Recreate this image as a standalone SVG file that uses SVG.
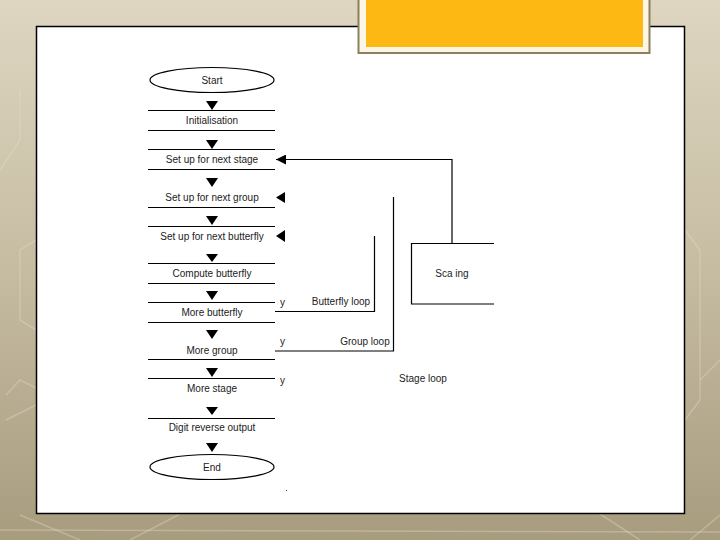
<svg xmlns="http://www.w3.org/2000/svg" width="720" height="540" viewBox="0 0 720 540">
<defs>
<linearGradient id="bg" x1="0" y1="0" x2="0" y2="1">
<stop offset="0" stop-color="#ded6c1"/>
<stop offset="0.5" stop-color="#c6bca2"/>
<stop offset="1" stop-color="#a89c7f"/>
</linearGradient>
<marker id="tri" viewBox="0 0 10 10" refX="10" refY="5" markerWidth="10" markerHeight="10" markerUnits="userSpaceOnUse" orient="auto">
<path d="M0,0 L10,5 L0,10 Z" fill="#000"/>
</marker>
</defs>
<style>
.t{font-family:"Liberation Sans",Arial,sans-serif;font-size:10px;fill:#222;text-anchor:middle}
.tl{font-family:"Liberation Sans",Arial,sans-serif;font-size:10px;fill:#222}
.ln{stroke:#000;stroke-width:1.2;fill:none}
.dn{fill:#000}
.hex{stroke:#e6dfcc;stroke-width:1.5;fill:none;opacity:0.35}
</style>
<rect x="0" y="0" width="720" height="540" fill="url(#bg)"/>
<g id="background-pattern">
<polyline class="hex" points="0,170 20,140 20,90"/>
<polyline class="hex" points="36,240 20,250 20,320 36,330"/>
<polyline class="hex" points="6,395 20,380 36,388"/>
<polyline class="hex" points="6,420 36,405"/>
<polyline class="hex" points="20,515 80,540"/>
<polyline class="hex" points="130,540 180,514"/>
<polyline class="hex" points="0,530 720,532"/>
<polyline class="hex" points="600,514 640,540"/>
<polyline class="hex" points="690,540 720,515"/>
<polyline class="hex" points="685,230 700,250 700,400 685,420"/>
<polyline class="hex" points="700,380 720,360"/>
</g>
<rect id="panel" x="36.5" y="26.5" width="648" height="487" fill="#fff" stroke="#000" stroke-width="1.5"/>
<g id="title-box">
<rect x="358.5" y="-3" width="291" height="56" fill="#fbf6e6" stroke="#8c7f5c" stroke-width="2"/>
<rect x="366" y="-3" width="277" height="50" fill="#fdb813"/>
</g>
<g id="n-start">
<ellipse cx="212" cy="80" rx="62" ry="12.5" class="ln"/>
<text class="t" x="212" y="84">Start</text>
</g>
<g id="n-init">
<line class="ln" x1="148" y1="110.5" x2="275" y2="110.5"/>
<line class="ln" x1="148" y1="130.5" x2="275" y2="130.5"/>
<text class="t" x="212" y="124">Initialisation</text>
</g>
<g id="n-stage">
<line class="ln" x1="148" y1="149.5" x2="275" y2="149.5"/>
<line class="ln" x1="148" y1="169.5" x2="275" y2="169.5"/>
<text class="t" x="212" y="163">Set up for next stage</text>
</g>
<g id="n-group">
<line class="ln" x1="148" y1="207.5" x2="275" y2="207.5"/>
<text class="t" x="212" y="201">Set up for next group</text>
</g>
<g id="n-bfly">
<line class="ln" x1="148" y1="226.5" x2="275" y2="226.5"/>
<text class="t" x="212" y="240">Set up for next butterfly</text>
</g>
<g id="n-compute">
<line class="ln" x1="148" y1="263.5" x2="275" y2="263.5"/>
<line class="ln" x1="148" y1="283.5" x2="275" y2="283.5"/>
<text class="t" x="212" y="277">Compute butterfly</text>
</g>
<g id="n-morebfly">
<line class="ln" x1="148" y1="302.5" x2="275" y2="302.5"/>
<line class="ln" x1="148" y1="322.5" x2="275" y2="322.5"/>
<text class="t" x="212" y="316">More butterfly</text>
</g>
<g id="n-moregroup">
<line class="ln" x1="148" y1="359.5" x2="275" y2="359.5"/>
<text class="t" x="212" y="354">More group</text>
</g>
<g id="n-morestage">
<line class="ln" x1="148" y1="378.5" x2="275" y2="378.5"/>
<text class="t" x="212" y="392">More stage</text>
</g>
<g id="n-digit">
<line class="ln" x1="148" y1="418.5" x2="275" y2="418.5"/>
<text class="t" x="212" y="431">Digit reverse output</text>
</g>
<g id="n-end">
<ellipse cx="212" cy="467" rx="62" ry="12.5" class="ln"/>
<text class="t" x="212" y="471">End</text>
</g>
<g id="n-scaling">
<polyline class="ln" points="494,243.5 411.5,243.5 411.5,304 494,304"/>
<text class="t" x="452" y="277">Sca ing</text>
</g>
<g id="connectors">
<path class="dn" d="M206,101 L218,101 L212,110 Z"/>
<path class="dn" d="M206,140 L218,140 L212,149 Z"/>
<path class="dn" d="M206,178 L218,178 L212,187 Z"/>
<path class="dn" d="M206,216 L218,216 L212,225 Z"/>
<path class="dn" d="M206,254 L218,254 L212,262 Z"/>
<path class="dn" d="M206,291 L218,291 L212,300 Z"/>
<path class="dn" d="M206,330 L218,330 L212,339 Z"/>
<path class="dn" d="M206,368 L218,368 L212,377 Z"/>
<path class="dn" d="M206,407 L218,407 L212,415 Z"/>
<path class="dn" d="M206,443 L218,443 L212,452 Z"/>
<polyline class="ln" points="452,243 452,159.5 276,159.5" marker-end="url(#tri)"/>
<path class="dn" d="M285,192 L285,203 L276,197.5 Z"/>
<path class="dn" d="M285,230 L285,242 L276,236 Z"/>
<polyline class="ln" points="275,311.5 374.5,311.5 374.5,236"/>
<polyline class="ln" points="275,351 393.5,351 393.5,197"/>
<circle cx="286.5" cy="490.5" r="0.6" fill="#333"/>
</g>
<g id="labels">
<text class="tl" x="280" y="306">y</text>
<text class="tl" x="280" y="345">y</text>
<text class="tl" x="280" y="384">y</text>
<text class="t" x="341" y="305">Butterfly loop</text>
<text class="t" x="365" y="345">Group loop</text>
<text class="t" x="423" y="382">Stage loop</text>
</g>
</svg>
